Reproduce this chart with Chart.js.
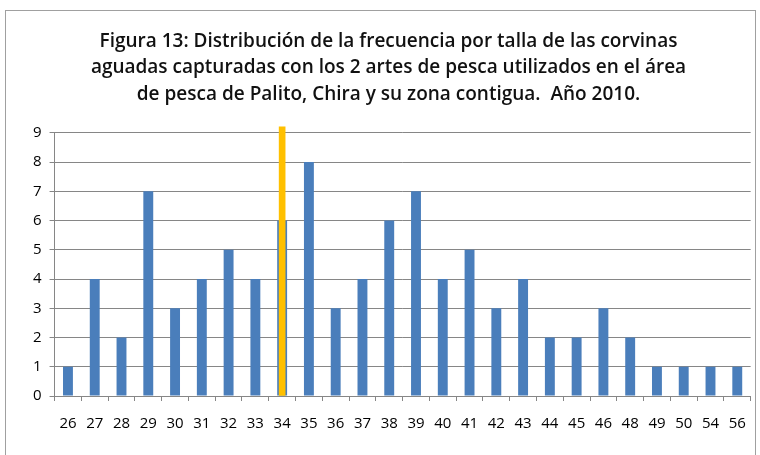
<!DOCTYPE html>
<html lang="es">
<head>
<meta charset="UTF-8">
<title>Figura 13</title>
<style>
  body { margin: 0; background: #fff; }
  #frame { position: absolute; left: 5px; top: 10px; width: 751px; height: 450px; border: 1px solid #a0a0a0; box-sizing: border-box; }
  #wrap { position: absolute; left: 0; top: 0; width: 760px; height: 455px; }
</style>
</head>
<body>
<div id="frame"></div>
<div id="wrap"><canvas id="chart" width="760" height="455"></canvas></div>
<script src="https://cdn.jsdelivr.net/npm/chart.js"></script>
<script>
  // tallas (cm) y frecuencia
  const tallas = ['26','27','28','29','30','31','32','33','34','35','36','37','38','39','40','41','42','43','44','45','46','48','49','50','54','56'];
  const frecuencia = [1,4,2,7,3,4,5,4,6,8,3,4,6,7,4,5,3,4,2,2,3,2,1,1,1,1];
  // linea amarilla en talla 34
  const marca = [null,null,null,null,null,null,null,null,9.2,null,null,null,null,null,null,null,null,null,null,null,null,null,null,null,null,null];
  const yTicks = [0,1,2,3,4,5,6,7,8,9];

  const titulo = [
    'Figura 13: Distribución de la frecuencia por talla de las corvinas',
    'aguadas capturadas con los 2 artes de pesca utilizados en el área',
    'de pesca de Palito, Chira y su zona contigua.  Año 2010.'
  ];

  new Chart(document.getElementById('chart'), {
    type: 'bar',
    data: {
      labels: tallas,
      datasets: [
        {
          data: marca,
          backgroundColor: '#ffc000',
          barThickness: 6,
          grouped: false,
          clip: false,
          order: 0
        },
        {
          data: frecuencia,
          backgroundColor: '#4a7ebb',
          barPercentage: 0.74,
          categoryPercentage: 0.5,
          grouped: false,
          order: 1
        }
      ]
    },
    options: {
      responsive: false,
      animation: false,
      layout: { padding: { left: 25, right: 8, top: 24, bottom: 8 } },
      plugins: {
        legend: { display: false },
        tooltip: { enabled: false },
        title: {
          display: true,
          text: titulo,
          color: '#111',
          font: { family: 'Open Sans', size: 19, weight: '600', lineHeight: 1.4 },
          padding: { top: 4, bottom: 25 }
        }
      },
      scales: {
        x: {
          offset: true,
          grid: { offset: true, drawOnChartArea: false, color: '#868686', tickLength: 5 },
          border: { color: '#868686' },
          ticks: { color: '#000', font: { family: 'Open Sans', size: 15 }, padding: 14, maxRotation: 0, autoSkip: false }
        },
        y: {
          min: 0,
          max: 9,
          afterBuildTicks: (axis) => { axis.ticks = yTicks.map(v => ({ value: v })); },
          grid: { color: '#868686', tickLength: 5 },
          border: { color: '#868686' },
          ticks: { color: '#000', font: { family: 'Open Sans', size: 15 }, padding: 8 }
        }
      }
    }
  });
</script>
</body>
</html>
